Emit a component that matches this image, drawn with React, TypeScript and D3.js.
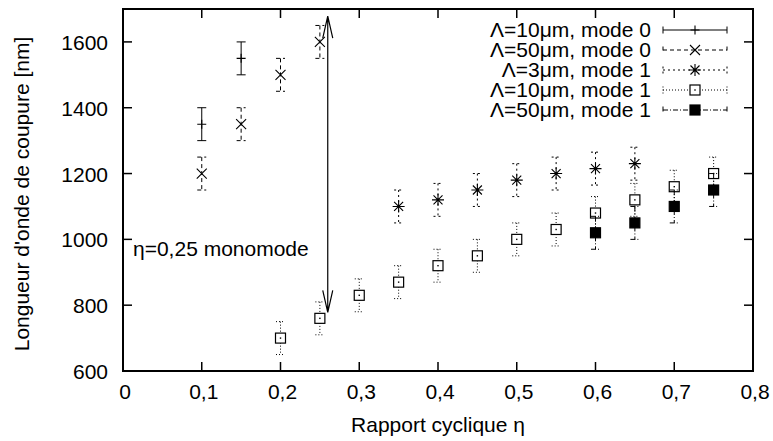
import React, { useEffect, useRef } from "react";
import * as d3 from "d3";

// cutoff wavelength vs duty cycle, error bars are +-50 nm everywhere
const xTicks = [0, 0.1, 0.2, 0.3, 0.4, 0.5, 0.6, 0.7, 0.8];
const yTicks = [600, 800, 1000, 1200, 1400, 1600];
const errHalf = 50;

const s1x = [0.1, 0.15];
const s1y = [1350, 1550];

const s2x = [0.1, 0.15, 0.2, 0.25];
const s2y = [1200, 1350, 1500, 1600];

const s3x = [0.35, 0.4, 0.45, 0.5, 0.55, 0.6, 0.65];
const s3y = [1100, 1120, 1150, 1180, 1200, 1215, 1230];

const s4x = [0.2, 0.25, 0.3, 0.35, 0.4, 0.45, 0.5, 0.55, 0.6, 0.65, 0.7, 0.75];
const s4y = [700, 760, 830, 870, 920, 950, 1000, 1030, 1080, 1120, 1160, 1200];

const s5x = [0.6, 0.65, 0.7, 0.75];
const s5y = [1020, 1050, 1100, 1150];

const seriesNames = [
  "Λ=10μm, mode 0",
  "Λ=50μm, mode 0",
  "Λ=3μm, mode 1",
  "Λ=10μm, mode 1",
  "Λ=50μm, mode 1",
];

const arrowX = 0.26;
const arrowTop = 1678;
const arrowBottom = 778;

type Marker = "plus" | "cross" | "star" | "box" | "fbox";

function App(): JSX.Element {
  const ref = useRef<SVGSVGElement>(null);

  useEffect(() => {
    if (!ref.current) return;
    const svg = d3.select(ref.current);
    svg.selectAll("*").remove();

    const font = "'Liberation Sans', Helvetica, Arial, sans-serif";
    const fs = 21;
    const x = d3.scaleLinear().domain([0, 0.8]).range([123, 753]);
    const y = d3.scaleLinear().domain([600, 1700]).range([371, 9]);

    const g = svg.append("g");

    const drawMarker = (cx: number, cy: number, m: Marker) => {
      const p = d3.path();
      if (m === "plus" || m === "star") {
        const r = m === "plus" ? 4.5 : 6;
        p.moveTo(cx - r, cy);
        p.lineTo(cx + r, cy);
        p.moveTo(cx, cy - r);
        p.lineTo(cx, cy + r);
      }
      if (m === "cross" || m === "star") {
        const r = m === "cross" ? 5 : 4.5;
        p.moveTo(cx - r, cy - r);
        p.lineTo(cx + r, cy + r);
        p.moveTo(cx - r, cy + r);
        p.lineTo(cx + r, cy - r);
      }
      if (m === "box" || m === "fbox") {
        g.append("rect")
          .attr("x", cx - 5)
          .attr("y", cy - 5)
          .attr("width", 10)
          .attr("height", 10)
          .attr("fill", m === "fbox" ? "#000" : "#fff")
          .attr("stroke", "#000")
          .attr("stroke-width", 1.2);
        if (m === "box") {
          g.append("rect")
            .attr("x", cx - 0.7)
            .attr("y", cy - 0.7)
            .attr("width", 1.4)
            .attr("height", 1.4)
            .attr("fill", "#000");
        }
        return;
      }
      g.append("path")
        .attr("d", p.toString())
        .attr("stroke", "#000")
        .attr("stroke-width", 1.1)
        .attr("fill", "none");
    };

    const drawSeries = (xs: number[], ys: number[], dash: string | null, m: Marker) => {
      xs.forEach((xv, i) => {
        const cx = x(xv);
        const top = y(ys[i] + errHalf);
        const bot = y(ys[i] - errHalf);
        const p = d3.path();
        p.moveTo(cx, top);
        p.lineTo(cx, bot);
        p.moveTo(cx - 4.5, top);
        p.lineTo(cx + 4.5, top);
        p.moveTo(cx - 4.5, bot);
        p.lineTo(cx + 4.5, bot);
        g.append("path")
          .attr("d", p.toString())
          .attr("stroke", "#000")
          .attr("stroke-width", 1)
          .attr("fill", "none")
          .attr("stroke-dasharray", dash);
        drawMarker(cx, y(ys[i]), m);
      });
    };

    const dashes: (string | null)[] = [null, "4,3", "2,3", "1,2", "5,2,1,2"];
    const markers: Marker[] = ["plus", "cross", "star", "box", "fbox"];

    drawSeries(s1x, s1y, dashes[0], markers[0]);
    drawSeries(s2x, s2y, dashes[1], markers[1]);
    drawSeries(s3x, s3y, dashes[2], markers[2]);
    drawSeries(s4x, s4y, dashes[3], markers[3]);
    drawSeries(s5x, s5y, dashes[4], markers[4]);

    // frame + mirrored ticks
    const [x0, x1] = x.range();
    const [yb, yt] = y.range();
    const tk = 9;
    xTicks.forEach((t) => {
      g.append("line").attr("x1", x(t)).attr("x2", x(t)).attr("y1", yb).attr("y2", yb - tk)
        .attr("stroke", "#000").attr("stroke-width", 1.5);
      g.append("line").attr("x1", x(t)).attr("x2", x(t)).attr("y1", yt).attr("y2", yt + tk)
        .attr("stroke", "#000").attr("stroke-width", 1.5);
      g.append("text")
        .attr("x", x(t) + 2)
        .attr("y", 399)
        .attr("text-anchor", "middle")
        .attr("font-family", font)
        .attr("font-size", fs)
        .text(t === 0 ? "0" : d3.format(".1f")(t).replace(".", ","));
    });
    yTicks.forEach((t) => {
      g.append("line").attr("x1", x0).attr("x2", x0 + tk).attr("y1", y(t)).attr("y2", y(t))
        .attr("stroke", "#000").attr("stroke-width", 1.5);
      g.append("line").attr("x1", x1).attr("x2", x1 - tk).attr("y1", y(t)).attr("y2", y(t))
        .attr("stroke", "#000").attr("stroke-width", 1.5);
      g.append("text")
        .attr("x", 108)
        .attr("y", y(t) + 8)
        .attr("text-anchor", "end")
        .attr("font-family", font)
        .attr("font-size", fs)
        .text(String(t));
    });
    g.append("rect")
      .attr("x", x0)
      .attr("y", yt)
      .attr("width", x1 - x0)
      .attr("height", yb - yt)
      .attr("fill", "none")
      .attr("stroke", "#000")
      .attr("stroke-width", 2);

    // double arrow
    const ax = x(arrowX);
    const at = y(arrowTop);
    const ab = y(arrowBottom);
    const ap = d3.path();
    ap.moveTo(ax, at);
    ap.lineTo(ax, ab);
    ap.moveTo(ax - 5, at + 22);
    ap.lineTo(ax, at);
    ap.lineTo(ax + 5, at + 22);
    ap.moveTo(ax - 5, ab - 22);
    ap.lineTo(ax, ab);
    ap.lineTo(ax + 5, ab - 22);
    g.append("path").attr("d", ap.toString()).attr("stroke", "#000").attr("stroke-width", 1.2).attr("fill", "none");

    g.append("text")
      .attr("x", 133)
      .attr("y", y(975) + 8)
      .attr("font-family", font)
      .attr("font-size", fs)
      .text("η=0,25 monomode");

    // legend
    seriesNames.forEach((name, i) => {
      const ly = 30 + i * 20;
      g.append("text")
        .attr("x", 651)
        .attr("y", ly + 7)
        .attr("text-anchor", "end")
        .attr("font-family", font)
        .attr("font-size", fs)
        .text(name);
      const p = d3.path();
      p.moveTo(663, ly);
      p.lineTo(727, ly);
      p.moveTo(663, ly - 3.5);
      p.lineTo(663, ly + 3.5);
      p.moveTo(727, ly - 3.5);
      p.lineTo(727, ly + 3.5);
      g.append("path")
        .attr("d", p.toString())
        .attr("stroke", "#000")
        .attr("stroke-width", 1)
        .attr("fill", "none")
        .attr("stroke-dasharray", dashes[i]);
      drawMarker(695, ly, markers[i]);
    });

    // axis titles
    g.append("text")
      .attr("x", (x0 + x1) / 2)
      .attr("y", 432)
      .attr("text-anchor", "middle")
      .attr("font-family", font)
      .attr("font-size", fs)
      .text("Rapport cyclique η");
    g.append("text")
      .attr("transform", "translate(29,194) rotate(-90)")
      .attr("text-anchor", "middle")
      .attr("font-family", font)
      .attr("font-size", fs)
      .text("Longueur d'onde de coupure [nm]");
  }, []);

  return (
    <svg
      ref={ref}
      width={773}
      height={441}
      style={{ position: "absolute", left: 0, top: 0, background: "#fff" }}
    />
  );
}

export default App;
